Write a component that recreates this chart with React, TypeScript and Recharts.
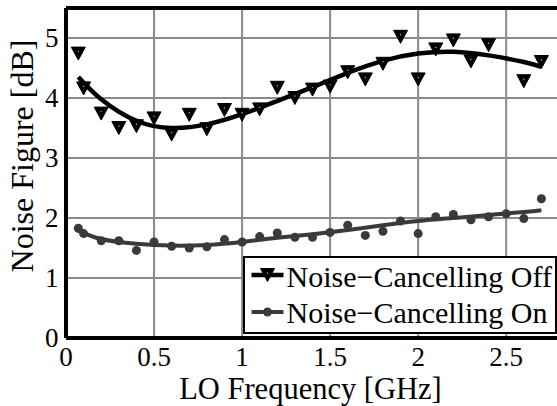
import {
  ComposedChart,
  Line,
  Scatter,
  XAxis,
  YAxis,
  CartesianGrid,
  ReferenceLine,
  Legend,
  Label,
} from "recharts";

// measured points (GHz, dB)
const offFreq = [0.07, 0.1, 0.2, 0.3, 0.4, 0.5, 0.6, 0.7, 0.8, 0.9, 1.0, 1.1, 1.2, 1.3, 1.4, 1.5, 1.6, 1.7, 1.8, 1.9, 2.0, 2.1, 2.2, 2.3, 2.4, 2.6, 2.7];
const offNF = [4.74, 4.16, 3.74, 3.5, 3.53, 3.66, 3.39, 3.72, 3.48, 3.8, 3.72, 3.81, 4.17, 4.0, 4.14, 4.19, 4.43, 4.31, 4.57, 5.02, 4.31, 4.81, 4.96, 4.61, 4.88, 4.28, 4.6];

const onFreq = [0.07, 0.1, 0.2, 0.3, 0.4, 0.5, 0.6, 0.7, 0.8, 0.9, 1.0, 1.1, 1.2, 1.3, 1.4, 1.5, 1.6, 1.7, 1.8, 1.9, 2.0, 2.1, 2.2, 2.3, 2.4, 2.5, 2.6, 2.7];
const onNF = [1.83, 1.74, 1.62, 1.62, 1.46, 1.6, 1.53, 1.5, 1.52, 1.64, 1.6, 1.69, 1.75, 1.68, 1.68, 1.76, 1.88, 1.71, 1.78, 1.95, 1.74, 2.02, 2.06, 1.97, 2.02, 2.07, 1.99, 2.32];

// fitted trend curves
const fitFreq = [0.07, 0.2, 0.4, 0.6, 0.8, 1.0, 1.2, 1.4, 1.6, 1.8, 2.0, 2.2, 2.4, 2.6, 2.7];
const offFitNF = [4.35, 3.98, 3.62, 3.5, 3.56, 3.73, 3.95, 4.18, 4.42, 4.62, 4.74, 4.77, 4.71, 4.6, 4.52];
const onFitNF = [1.79, 1.65, 1.57, 1.54, 1.55, 1.6, 1.67, 1.73, 1.8, 1.88, 1.95, 2.0, 2.05, 2.1, 2.13];

const xTicks = [0, 0.5, 1, 1.5, 2, 2.5];
const yTicks = [0, 1, 2, 3, 4, 5];

const zip = (fs: number[], vs: number[]) => fs.map((f, i) => ({ f, nf: vs[i] }));

const offPoints = zip(offFreq, offNF);
const onPoints = zip(onFreq, onNF);
const offFit = zip(fitFreq, offFitNF);
const onFit = zip(fitFreq, onFitNF);

const FONT = "'Liberation Serif', 'Nimbus Roman', 'DejaVu Serif', serif";
const GRAY = "#3a3a3a";
const txt = { fontFamily: FONT };

const triangle = (cx: number, cy: number) => (
  <g>
    <path
      d={`M${cx - 7},${cy - 6.5}L${cx + 7},${cy - 6.5}L${cx},${cy + 6.5}Z`}
      fill="#000"
      stroke="#000"
      strokeWidth={1}
      strokeLinejoin="miter"
    />
    <circle cx={cx} cy={cy - 2} r={0.7} fill="#bbb" />
  </g>
);

const dot = (cx: number, cy: number) => <circle cx={cx} cy={cy} r={4.5} fill={GRAY} />;

const XTick = ({ x, y, payload }: any) => (
  <text x={x} y={y + 28.3} textAnchor="middle" style={txt} fontSize={27} fill="#000">
    {payload.value}
  </text>
);

const YTick = ({ x, y, payload }: any) => (
  <text x={x - 7.5} y={y} dy="0.35em" textAnchor="end" style={txt} fontSize={27} fill="#000">
    {payload.value}
  </text>
);

const XTitle = ({ viewBox }: any) => (
  <text
    x={viewBox.x + viewBox.width / 2 - 2}
    y={viewBox.y + 61.3}
    textAnchor="middle"
    style={txt}
    fontSize={30.5}
    fill="#000"
  >
    LO Frequency [GHz]
  </text>
);

const YTitle = () => (
  <text
    transform="translate(33, 156) rotate(-90)"
    textAnchor="middle"
    style={txt}
    fontSize={32}
    fill="#000"
  >
    Noise Figure [dB]
  </text>
);

const LegendBox = () => (
  <svg width={316} height={80} style={{ display: "block" }}>
    <rect x={1} y={1} width={312} height={76} fill="#fff" stroke="#000" strokeWidth={2} />
    <line x1={8.5} y1={19} x2={40.5} y2={19} stroke="#000" strokeWidth={4.5} />
    {triangle(24.5, 19)}
    <text x={43.5} y={30.5} style={txt} fontSize={30} fill="#000">
      Noise−Cancelling Off
    </text>
    <line x1={8.5} y1={56} x2={40.5} y2={56} stroke={GRAY} strokeWidth={4} />
    {dot(24.5, 56)}
    <text x={43.5} y={67} style={txt} fontSize={30} fill="#000">
      Noise−Cancelling On
    </text>
  </svg>
);

export default function App() {
  return (
    <div style={{ position: "absolute", left: 0, top: 0, width: 557, height: 406, overflow: "hidden", background: "#fff" }}>
      <ComposedChart width={561} height={406} margin={{ top: 8, right: 2, bottom: 0, left: 0 }}>
        <CartesianGrid stroke="#8a8a8a" strokeWidth={2} />
        <XAxis
          type="number"
          dataKey="f"
          domain={[0, 2.8]}
          ticks={xTicks}
          allowDataOverflow
          height={68}
          tickSize={0}
          tickMargin={0}
          tickLine={false}
          axisLine={{ stroke: "#000", strokeWidth: 4 }}
          tick={<XTick />}
        >
          <Label content={<XTitle />} />
        </XAxis>
        <YAxis
          type="number"
          dataKey="nf"
          domain={[0, 5.5]}
          ticks={yTicks}
          allowDataOverflow
          width={66}
          tickSize={0}
          tickMargin={0}
          tickLine={false}
          axisLine={{ stroke: "#000", strokeWidth: 4 }}
          tick={<YTick />}
        >
          <Label content={<YTitle />} />
        </YAxis>
        <ReferenceLine y={5.5} stroke="#000" strokeWidth={4} />
        <Line
          data={offFit}
          dataKey="nf"
          type="natural"
          stroke="#000"
          strokeWidth={4.5}
          dot={false}
          activeDot={false}
          isAnimationActive={false}
        />
        <Line
          data={onFit}
          dataKey="nf"
          type="natural"
          stroke={GRAY}
          strokeWidth={4}
          dot={false}
          activeDot={false}
          isAnimationActive={false}
        />
        <Scatter
          data={offPoints}
          dataKey="nf"
          shape={(p: any) => triangle(p.cx, p.cy)}
          isAnimationActive={false}
        />
        <Scatter
          data={onPoints}
          dataKey="nf"
          shape={(p: any) => dot(p.cx, p.cy)}
          isAnimationActive={false}
        />
        <Legend
          layout="horizontal"
          verticalAlign="middle"
          align="center"
          wrapperStyle={{ left: 243, top: 256, width: 316, height: 80 }}
          content={<LegendBox />}
        />
      </ComposedChart>
    </div>
  );
}
